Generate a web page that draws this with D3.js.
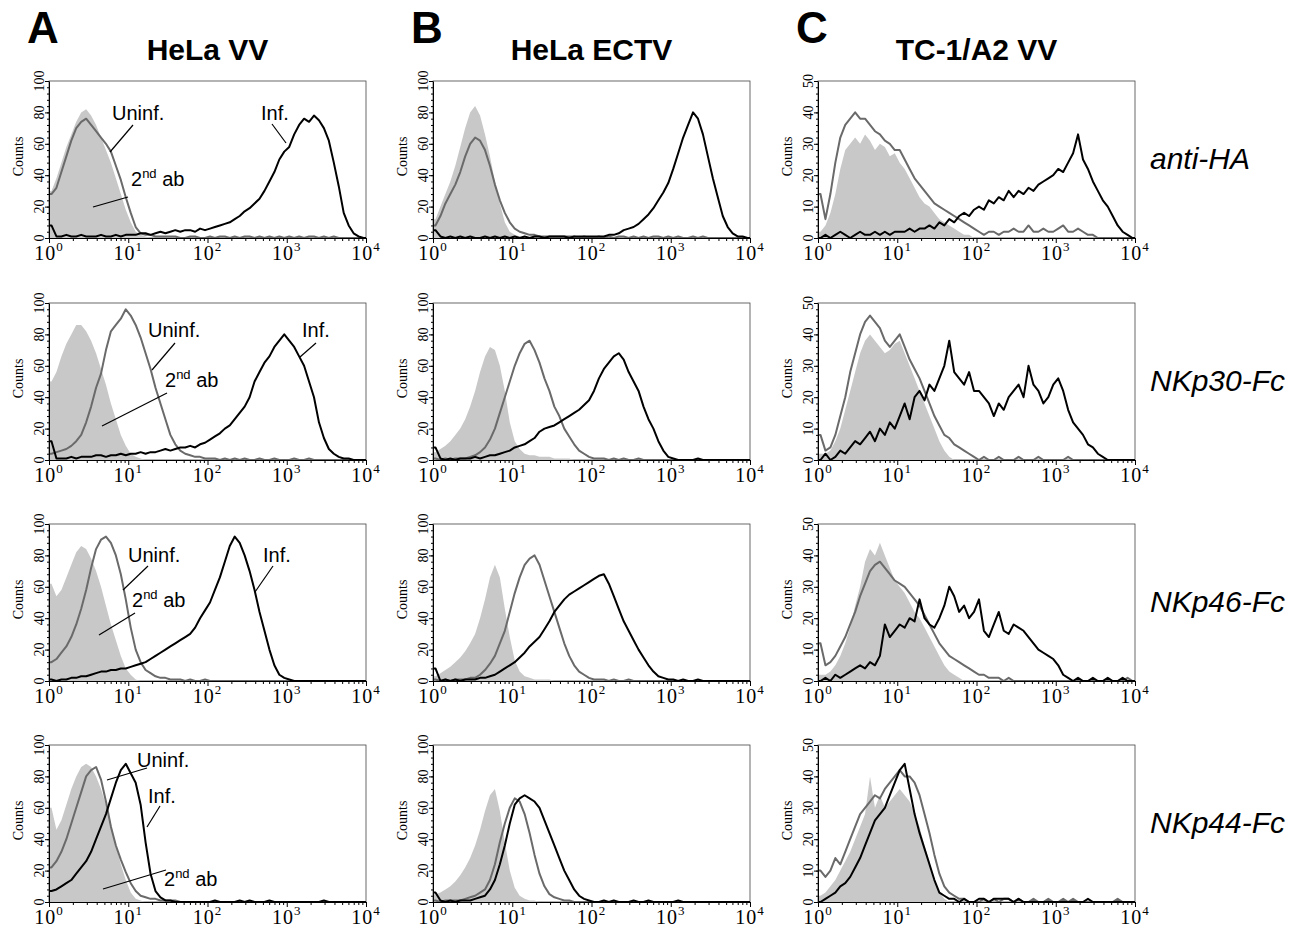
<!DOCTYPE html>
<html>
<head>
<meta charset="utf-8" />
<script src="https://d3js.org/d3.v7.min.js"></script>
<style>
  body { margin: 0; background: #fff; }
  svg { display: block; }
</style>
</head>
<body>
<script>
// histogram counts, 16 channels per decade, 10^0 .. 10^4 (64 channels)
// row 1: anti-HA
const a1_ab2 = [30,38,48,58,66,74,80,82,78,72,64,56,48,38,28,18, 10,4,2,1,0,0,0,0,0,0,0,0,0,0,0,0, 0,0,0,0,0,0,0,0,0,0,0,0,0,0,0,0, 0,0,0,0,0,0,0,0,0,0,0,0,0,0,0,0];
const a1_uninf = [28,32,42,52,62,70,74,76,72,68,64,60,55,46,37,26, 16,7,3,2,2,1,1,1,1,1,0,0,1,1,0,0, 1,0,1,1,0,1,0,1,1,0,1,0,1,0,1,0, 1,0,1,0,1,1,0,1,0,1,0,0,0,0,0,0];
const a1_inf = [8,1,1,2,1,1,2,1,1,1,2,1,1,2,1,2, 2,2,3,3,2,3,4,3,4,5,4,5,5,4,6,5, 6,7,8,9,10,12,14,17,19,22,25,30,36,42,50,55, 58,66,72,76,74,78,75,70,62,48,33,16,8,3,1,0];

const b1_ab2 = [12,20,28,36,46,58,70,80,84,78,66,52,36,22,10,4, 2,1,0,0,0,0,0,0,0,0,0,0,0,0,0,0, 0,0,0,0,0,0,0,0,0,0,0,0,0,0,0,0, 0,0,0,0,0,0,0,0,0,0,0,0,0,0,0,0];
const b1_uninf = [8,14,22,28,34,42,52,60,64,62,56,46,34,24,16,10, 6,4,3,2,2,1,1,1,1,1,1,1,1,0,1,0, 0,1,0,1,0,1,1,0,1,0,1,0,1,1,0,1, 0,1,0,0,1,0,1,0,0,0,0,0,0,0,0,0];
const b1_inf = [5,1,0,1,0,1,0,1,0,0,1,0,1,0,1,0, 1,0,1,0,1,1,0,1,1,1,1,0,1,1,1,1, 1,1,1,2,2,3,5,6,7,9,12,15,19,24,29,35, 44,54,64,72,80,76,66,52,38,26,14,7,3,1,1,0];

const c1_ab2 = [2,4,8,14,22,28,30,32,30,33,31,28,30,29,26,27, 24,22,19,16,13,11,10,8,6,5,4,3,2,1,1,0, 0,0,0,0,0,0,0,0,0,0,0,0,0,0,0,0, 0,0,0,0,0,0,0,0,0,0,0,0,0,0,0,0];
const c1_uninf = [14,6,14,24,32,36,38,40,38,38,36,34,33,31,30,28, 28,25,22,19,17,15,13,11,10,9,8,7,6,5,4,3, 2,1,2,2,1,2,2,3,2,2,4,2,2,3,2,2, 3,4,2,2,3,2,1,1,0,0,0,0,0,0,0,0];
const c1_inf = [0,1,0,1,2,1,0,1,2,1,1,2,1,2,1,2, 2,2,3,2,3,3,4,3,5,4,6,5,7,8,7,9, 10,9,12,11,13,12,15,13,15,14,16,15,17,18,19,20, 22,21,24,27,33,25,22,18,15,12,10,7,4,2,1,0];

// row 2: NKp30-Fc
const a2_ab2 = [50,56,66,74,80,86,86,82,76,68,58,48,36,26,16,9, 4,2,1,0,0,0,0,0,0,0,0,0,0,0,0,0, 0,0,0,0,0,0,0,0,0,0,0,0,0,0,0,0, 0,0,0,0,0,0,0,0,0,0,0,0,0,0,0,0];
const a2_uninf = [4,5,6,7,9,12,16,24,34,46,55,70,82,86,90,96, 92,86,78,68,58,46,36,26,16,10,6,4,3,2,2,1, 1,1,0,1,0,1,0,1,0,0,1,0,0,1,0,0, 0,1,0,0,1,0,0,0,0,0,0,0,0,0,0,0];
const a2_inf = [12,1,1,1,2,1,2,2,2,3,3,2,3,3,4,3, 4,4,5,4,5,5,6,7,6,7,8,8,9,8,10,11, 13,15,17,20,22,26,30,34,40,50,56,62,66,72,76,80, 76,72,66,60,50,40,24,14,7,4,2,1,1,0,0,0];

const b2_ab2 = [5,7,9,12,16,20,26,34,44,56,66,72,70,60,44,24, 12,7,4,3,3,2,2,2,1,1,1,1,0,0,0,0, 0,0,0,0,0,0,0,0,0,0,0,0,0,0,0,0, 0,0,0,0,0,0,0,0,0,0,0,0,0,0,0,0];
const b2_uninf = [1,0,1,0,1,1,1,2,3,5,8,13,20,30,40,50, 60,68,74,76,70,62,52,44,34,28,20,15,10,6,4,2, 1,1,1,0,1,0,1,0,0,1,0,0,0,0,0,0, 0,0,0,0,0,0,0,0,0,0,0,0,0,0,0,0];
const b2_inf = [8,1,0,1,0,1,1,1,2,1,2,3,3,4,5,6, 8,9,10,12,14,18,20,21,22,24,26,28,30,32,35,38, 44,52,58,62,66,68,64,56,50,44,34,26,20,12,6,2, 1,0,0,0,0,1,0,0,0,0,0,0,0,0,0,0];

const c2_ab2 = [2,2,3,6,10,16,22,28,34,38,40,38,36,34,35,37, 38,34,30,26,22,18,14,10,6,3,1,0,0,0,0,0, 0,0,0,0,0,0,0,0,0,0,0,0,0,0,0,0, 0,0,0,0,0,0,0,0,0,0,0,0,0,0,0,0];
const c2_uninf = [8,3,4,8,14,20,28,34,40,44,46,44,42,38,36,38, 40,36,32,29,26,22,18,14,11,8,7,5,4,3,2,1, 0,1,0,0,1,0,0,0,1,0,0,0,1,0,0,0, 0,0,1,0,0,0,0,0,0,0,0,0,0,0,0,0];
const c2_inf = [0,2,0,1,3,2,4,6,5,7,9,6,10,8,12,10, 14,18,13,20,22,19,24,22,26,30,38,28,26,24,28,22, 22,20,18,14,18,16,20,22,24,20,30,24,22,18,20,24, 26,22,16,12,10,8,5,4,2,1,0,0,0,0,0,0];

// row 3: NKp46-Fc
const a3_ab2 = [62,54,58,66,74,82,86,84,78,70,60,48,36,26,16,8, 4,1,0,0,0,0,0,0,0,0,0,0,0,0,0,0, 0,0,0,0,0,0,0,0,0,0,0,0,0,0,0,0, 0,0,0,0,0,0,0,0,0,0,0,0,0,0,0,0];
const a3_uninf = [12,14,18,22,28,36,46,58,72,84,90,92,88,80,68,52, 34,20,12,7,5,3,2,2,1,1,1,0,1,0,0,1, 0,0,0,0,0,0,0,0,0,0,0,0,0,0,0,0, 0,0,0,0,0,0,0,0,0,0,0,0,0,0,0,0];
const a3_inf = [1,0,1,1,2,2,3,3,4,5,6,6,7,7,8,8, 9,10,11,12,14,16,18,20,22,24,26,28,30,34,40,45, 50,58,66,76,86,92,88,80,70,58,44,32,20,10,4,2, 1,0,0,0,0,0,0,0,0,0,0,0,0,0,0,0];

const b3_ab2 = [3,5,7,9,12,15,19,24,30,40,52,66,74,66,46,28, 13,6,3,2,1,1,1,1,0,0,0,0,0,0,0,0, 0,0,0,0,0,0,0,0,0,0,0,0,0,0,0,0, 0,0,0,0,0,0,0,0,0,0,0,0,0,0,0,0];
const b3_uninf = [1,0,1,0,1,1,1,2,2,4,7,11,16,24,32,44, 56,66,74,78,80,74,64,54,44,34,24,16,10,6,4,2, 1,1,1,0,1,0,0,1,0,0,0,0,0,0,0,0, 0,0,0,0,0,0,0,0,0,0,0,0,0,0,0,0];
const b3_inf = [8,0,1,0,1,0,1,1,1,2,2,3,4,6,8,10, 12,15,18,22,25,28,33,38,44,48,52,55,57,59,61,63, 65,67,68,62,54,46,38,32,26,20,15,10,6,3,2,1, 1,0,1,0,0,1,0,0,0,0,0,0,0,0,0,0];

const c3_ab2 = [2,2,3,5,8,12,17,24,30,38,42,40,44,40,36,32, 30,28,25,22,20,17,14,11,8,5,3,2,1,0,0,0, 0,0,0,0,0,0,0,0,0,0,0,0,0,0,0,0, 0,0,0,0,0,0,0,0,0,0,0,0,0,0,0,0];
const c3_uninf = [12,5,6,8,11,14,18,22,27,31,35,37,38,36,34,32, 31,30,28,26,24,21,18,15,12,10,8,7,6,5,4,3, 2,2,1,1,1,0,1,0,0,0,0,0,0,0,0,0, 0,0,0,0,0,0,0,0,0,0,0,0,0,0,1,0];
const c3_inf = [0,1,0,2,1,2,3,4,5,4,6,5,8,18,14,16, 18,17,20,19,26,20,18,17,20,24,30,27,22,24,20,22, 26,16,14,18,22,16,15,18,17,16,14,12,10,9,8,7, 5,2,1,0,1,0,0,1,0,0,1,0,0,1,0,0];

// row 4: NKp44-Fc
const a4_ab2 = [60,46,52,62,72,80,86,88,86,80,72,62,50,36,24,14, 6,2,1,0,0,0,0,0,0,0,0,0,0,0,0,0, 0,0,0,0,0,0,0,0,0,0,0,0,0,0,0,0, 0,0,0,0,0,0,0,0,0,0,0,0,0,0,0,0];
const a4_uninf = [22,26,32,40,50,60,70,80,84,86,78,64,48,36,27,19, 12,7,4,3,2,2,1,1,1,1,0,0,0,0,0,0, 0,0,0,0,0,0,0,0,0,0,0,0,0,0,0,0, 0,0,0,0,0,0,0,0,0,0,0,0,0,0,0,0];
const a4_inf = [7,8,10,12,14,18,22,26,32,40,48,56,66,76,84,88, 82,76,62,38,18,7,3,1,1,0,0,0,0,0,0,0, 0,1,0,0,0,0,1,0,1,0,0,0,1,0,0,0, 0,0,0,0,0,0,0,1,0,0,0,0,0,0,0,0];

const b4_ab2 = [5,6,8,10,13,17,22,28,36,46,58,68,72,58,38,20, 9,4,2,1,1,0,0,0,0,0,0,0,0,0,0,0, 0,0,0,0,0,0,0,0,0,0,0,0,0,0,0,0, 0,0,0,0,0,0,0,0,0,0,0,0,0,0,0,0];
const b4_uninf = [1,0,1,1,1,1,2,3,4,6,8,14,24,38,50,60, 66,64,56,44,30,18,10,5,3,2,1,1,0,0,0,0, 0,0,0,0,0,0,0,0,0,0,0,0,0,0,0,0, 0,0,0,0,0,0,0,0,0,0,0,0,0,0,0,0];
const b4_inf = [6,1,0,1,0,1,1,1,2,3,4,8,14,24,36,50, 62,66,68,66,64,60,52,44,36,28,20,14,8,4,2,1, 0,0,1,0,1,0,0,0,1,0,0,1,0,0,0,0, 0,1,0,0,0,0,0,0,0,0,0,0,0,0,0,0];

const c4_ab2 = [2,3,5,7,10,13,16,20,24,28,40,30,34,30,32,34, 36,34,32,28,24,18,13,7,3,1,0,0,0,0,0,0, 0,0,0,0,0,0,0,0,0,0,0,0,0,0,0,0, 0,0,0,0,0,0,0,0,0,0,0,0,0,0,0,0];
const c4_uninf = [10,8,10,14,12,16,20,24,28,30,32,34,33,36,38,40, 42,40,40,38,34,28,22,15,9,5,3,2,1,1,0,0, 0,1,0,1,0,1,1,0,1,0,0,1,0,0,1,0, 0,1,0,1,0,0,0,0,0,0,0,0,1,0,0,0];
const c4_inf = [0,1,2,3,5,6,8,11,14,18,22,26,28,30,34,38, 42,44,36,28,22,17,12,7,3,2,1,1,0,1,0,0, 1,1,0,1,1,1,1,0,1,0,0,0,0,0,0,0, 0,0,0,0,0,0,1,0,0,0,0,0,0,0,0,0];

const colLetters = ["A", "B", "C"];
const colTitles = ["HeLa VV", "HeLa ECTV", "TC-1/A2 VV"];
const rowLabels = ["anti-HA", "NKp30-Fc", "NKp46-Fc", "NKp44-Fc"];
const yMaxByCol = [100, 100, 50];
const decadeTicks = [1, 10, 100, 1000, 10000];
const decadeExp = ["0", "1", "2", "3", "4"];
const binsPerDecade = 16;

const panels = [
  [a1_ab2, a1_uninf, a1_inf], [b1_ab2, b1_uninf, b1_inf], [c1_ab2, c1_uninf, c1_inf],
  [a2_ab2, a2_uninf, a2_inf], [b2_ab2, b2_uninf, b2_inf], [c2_ab2, c2_uninf, c2_inf],
  [a3_ab2, a3_uninf, a3_inf], [b3_ab2, b3_uninf, b3_inf], [c3_ab2, c3_uninf, c3_inf],
  [a4_ab2, a4_uninf, a4_inf], [b4_ab2, b4_uninf, b4_inf], [c4_ab2, c4_uninf, c4_inf]
];

// labels with leader lines in column A (page coordinates)
const notes = [
  {text: "Uninf.", x: 112, y: 120, line: [133, 125, 110, 152]},
  {text: "Inf.", x: 261, y: 120, line: [272, 124, 286, 143]},
  {text: "2nd ab", x: 131, y: 186, line: [128, 197, 93, 207]},
  {text: "Uninf.", x: 148, y: 337, line: [175, 343, 152, 370]},
  {text: "Inf.", x: 302, y: 337, line: [316, 343, 300, 357]},
  {text: "2nd ab", x: 165, y: 387, line: [167, 393, 102, 426]},
  {text: "Uninf.", x: 128, y: 562, line: [148, 566, 123, 590]},
  {text: "Inf.", x: 263, y: 562, line: [273, 566, 255, 592]},
  {text: "2nd ab", x: 132, y: 607, line: [135, 613, 99, 635]},
  {text: "Uninf.", x: 137, y: 767, line: [147, 768, 107, 780]},
  {text: "Inf.", x: 148, y: 803, line: [160, 806, 147, 827]},
  {text: "2nd ab", x: 164, y: 886, line: [166, 870, 103, 889]}
];

const colLeft = [49, 433, 818];
const rowTop = [81, 303, 524, 745];
const pw = 317, ph = 157;
const serif = "'Liberation Serif', 'Times New Roman', serif";
const sans = "'Liberation Sans', Arial, sans-serif";

const svg = d3.select("body").append("svg")
  .attr("width", 1304).attr("height", 931)
  .style("background", "#fff");

const x = d3.scaleLog().domain([1, 10000]).range([0, pw]);
const minorX = decadeTicks.slice(0, -1).flatMap(d => [2, 3, 4, 5, 6, 7, 8, 9].map(m => d * m));

// column headers
colLetters.forEach((l, c) => {
  svg.append("text").attr("x", colLeft[c] - 22).attr("y", 43)
    .attr("font-family", sans).attr("font-weight", "bold").attr("font-size", 44)
    .text(l);
  svg.append("text").attr("x", colLeft[c] + pw / 2).attr("y", 60)
    .attr("text-anchor", "middle")
    .attr("font-family", sans).attr("font-weight", "bold").attr("font-size", 30)
    .text(colTitles[c]);
});

rowLabels.forEach((l, r) => {
  svg.append("text").attr("x", 1150).attr("y", rowTop[r] + 88)
    .attr("font-family", sans).attr("font-style", "italic").attr("font-size", 30)
    .text(l);
});

panels.forEach((series, i) => {
  const row = Math.floor(i / 3), col = i % 3;
  const ymax = yMaxByCol[col];
  const y = d3.scaleLinear().domain([0, ymax]).range([ph, 0]);
  const g = svg.append("g").attr("transform", `translate(${colLeft[col]},${rowTop[row]})`);

  // channel centres, plus the two ends of the scale
  const toPoints = vals => [[1, vals[0]]]
    .concat(vals.map((v, k) => [Math.pow(10, (k + 0.5) / binsPerDecade), v]))
    .concat([[10000, vals[vals.length - 1]]]);

  const area = d3.area().x(d => x(d[0])).y0(ph).y1(d => y(d[1]));
  const line = d3.line().x(d => x(d[0])).y(d => y(d[1]));

  g.append("rect").attr("width", pw).attr("height", ph)
    .attr("fill", "none").attr("stroke", "#444").attr("stroke-width", 0.8);

  g.append("path").datum(toPoints(series[0]))
    .attr("d", area).attr("fill", "#c8c8c8");
  g.append("path").datum(toPoints(series[1]))
    .attr("d", line).attr("fill", "none").attr("stroke", "#6a6a6a").attr("stroke-width", 2)
    .attr("stroke-linejoin", "round");
  g.append("path").datum(toPoints(series[2]))
    .attr("d", line).attr("fill", "none").attr("stroke", "#000").attr("stroke-width", 2)
    .attr("stroke-linejoin", "round");

  // y axis
  g.append("g")
    .call(d3.axisLeft(y).tickValues(d3.range(0, ymax + 1, ymax / 5)).tickSize(4).tickSizeOuter(0).tickFormat(""))
    .call(a => a.selectAll("path,line").attr("stroke", "#000"));
  g.append("g")
    .call(d3.axisLeft(y).tickValues(d3.range(0, ymax + 0.01, ymax / 25)).tickSize(2).tickFormat(""))
    .call(a => a.select(".domain").remove())
    .call(a => a.selectAll("line").attr("stroke", "#000"));

  d3.range(0, ymax + 1, ymax / 5).forEach(v => {
    g.append("text")
      .attr("transform", `translate(-5,${y(v)}) rotate(-90)`)
      .attr("text-anchor", "middle")
      .attr("font-family", serif).attr("font-size", 14)
      .text(v);
  });
  g.append("text")
    .attr("transform", `translate(-26,${ph / 2 - 3}) rotate(-90)`)
    .attr("text-anchor", "middle")
    .attr("font-family", serif).attr("font-size", 14)
    .text("Counts");

  // x axis (log)
  g.append("g").attr("transform", `translate(0,${ph})`)
    .call(d3.axisBottom(x).tickValues(decadeTicks).tickSize(5).tickSizeOuter(0).tickFormat(""))
    .call(a => a.selectAll("path,line").attr("stroke", "#000"));
  g.append("g").attr("transform", `translate(0,${ph})`)
    .call(d3.axisBottom(x).tickValues(minorX).tickSize(3).tickFormat(""))
    .call(a => a.select(".domain").remove())
    .call(a => a.selectAll("line").attr("stroke", "#000"));

  decadeTicks.forEach((d, k) => {
    const t = g.append("text").attr("x", x(d)).attr("y", ph + 22)
      .attr("text-anchor", "middle").attr("font-family", serif).attr("font-size", 20)
      .attr("letter-spacing", 1);
    t.append("tspan").text("10");
    t.append("tspan").attr("dy", -9).attr("font-size", 13).text(decadeExp[k]);
  });
});

notes.forEach(n => {
  svg.append("line")
    .attr("x1", n.line[0]).attr("y1", n.line[1]).attr("x2", n.line[2]).attr("y2", n.line[3])
    .attr("stroke", "#000").attr("stroke-width", 1.2);
  const t = svg.append("text").attr("x", n.x).attr("y", n.y)
    .attr("font-family", sans).attr("font-size", 20);
  if (n.text === "2nd ab") {
    t.append("tspan").text("2");
    t.append("tspan").attr("dy", -8).attr("font-size", 13).text("nd");
    t.append("tspan").attr("dy", 8).text(" ab");
  } else {
    t.text(n.text);
  }
});
</script>
</body>
</html>
